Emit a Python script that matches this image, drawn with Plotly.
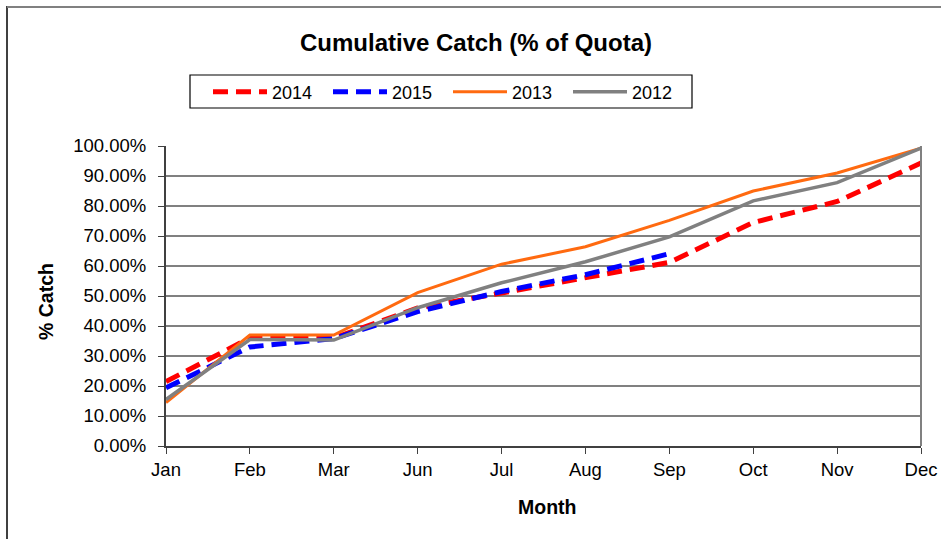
import plotly.graph_objects as go

months = ["Jan", "Feb", "Mar", "Jun", "Jul", "Aug", "Sep", "Oct", "Nov", "Dec"]
catch_2014 = [0.215, 0.36, 0.36, 0.46, 0.51, 0.56, 0.612, 0.745, 0.815, 0.943]
catch_2015 = [0.194, 0.33, 0.358, 0.448, 0.515, 0.571, 0.641]
catch_2013 = [0.145, 0.37, 0.37, 0.511, 0.606, 0.664, 0.752, 0.85, 0.91, 0.993]
catch_2012 = [0.155, 0.355, 0.353, 0.461, 0.544, 0.614, 0.697, 0.817, 0.878, 0.993]

FONT = "Arial, Liberation Sans, sans-serif"

fig = go.Figure()
fig.add_trace(go.Scatter(x=months, y=catch_2014, name="2014", mode="lines",
                         line=dict(color="#FF0000", width=5, dash="15px,8px")))
fig.add_trace(go.Scatter(x=months[:len(catch_2015)], y=catch_2015, name="2015", mode="lines",
                         line=dict(color="#0000FF", width=5, dash="15px,8px")))
fig.add_trace(go.Scatter(x=months, y=catch_2013, name="2013", mode="lines",
                         line=dict(color="#FF6A10", width=3)))
fig.add_trace(go.Scatter(x=months, y=catch_2012, name="2012", mode="lines",
                         line=dict(color="#808080", width=3.5)))

W, H = 941, 539
L, R, T, B = 166, 20, 146, 93
pw, ph = W - L - R, H - T - B


def px_x(p):
    return (p - L) / pw


def px_y(p):
    return (H - B - p) / ph


fig.update_layout(
    width=W, height=H,
    margin=dict(l=L, r=R, t=T, b=B, pad=0, autoexpand=False),
    paper_bgcolor="white", plot_bgcolor="white",
    font=dict(family=FONT, size=18, color="black"),
    title=dict(text="<b>Cumulative Catch (% of Quota)</b>", x=476 / W, xref="container",
               xanchor="center", y=1 - 43 / H, yanchor="middle",
               font=dict(size=24, family=FONT, color="black")),
    showlegend=True,
    legend=dict(orientation="h", x=px_x(208), y=px_y(92), xanchor="left", yanchor="middle",
                borderwidth=0, bgcolor="rgba(0,0,0,0)",
                font=dict(size=18, family=FONT, color="black"),
                itemwidth=54, tracegroupgap=0, entrywidthmode="pixels", entrywidth=51),
    xaxis=dict(type="category", range=[0, 9], showgrid=False, showline=True,
               linecolor="#404040", linewidth=2, ticks="outside", ticklen=6,
               tickcolor="#404040", tickfont=dict(size=18.5, family=FONT),
               automargin=False),
    yaxis=dict(range=[0, 1], dtick=0.1, tickformat=".2%", showgrid=True,
               gridcolor="#808080", gridwidth=1.5, showline=True, linecolor="#404040",
               linewidth=2, ticks="outside", ticklen=6, tickcolor="#404040",
               tickfont=dict(size=18.5, family=FONT), zeroline=False,
               ticklabelstandoff=8, automargin=False),
    annotations=[
        dict(text="<b>Month</b>", xref="paper", yref="paper", x=px_x(547), y=px_y(507),
             xanchor="center", yanchor="middle", showarrow=False,
             font=dict(size=19.5, family=FONT, color="black")),
        dict(text="<b>% Catch</b>", xref="paper", yref="paper", x=px_x(46), y=px_y(302),
             xanchor="center", yanchor="middle", showarrow=False, textangle=-90,
             font=dict(size=19.5, family=FONT, color="black")),
    ],
    shapes=[
        dict(type="rect", xref="paper", yref="paper", x0=px_x(190), x1=px_x(692),
             y0=px_y(108), y1=px_y(75), line=dict(color="black", width=1.2)),
        dict(type="line", xref="paper", yref="paper", x0=1, x1=1, y0=0, y1=1,
             line=dict(color="#808080", width=2)),
        dict(type="line", xref="paper", yref="paper", x0=px_x(7), x1=px_x(7),
             y0=px_y(6), y1=px_y(560), line=dict(color="black", width=1.5)),
        dict(type="line", xref="paper", yref="paper", x0=px_x(7), x1=px_x(960),
             y0=px_y(7), y1=px_y(7), line=dict(color="#808080", width=2)),
    ],
)

fig.write_html("out.html", config={"displayModeBar": False},
               post_script="document.body.style.margin='0px';")
